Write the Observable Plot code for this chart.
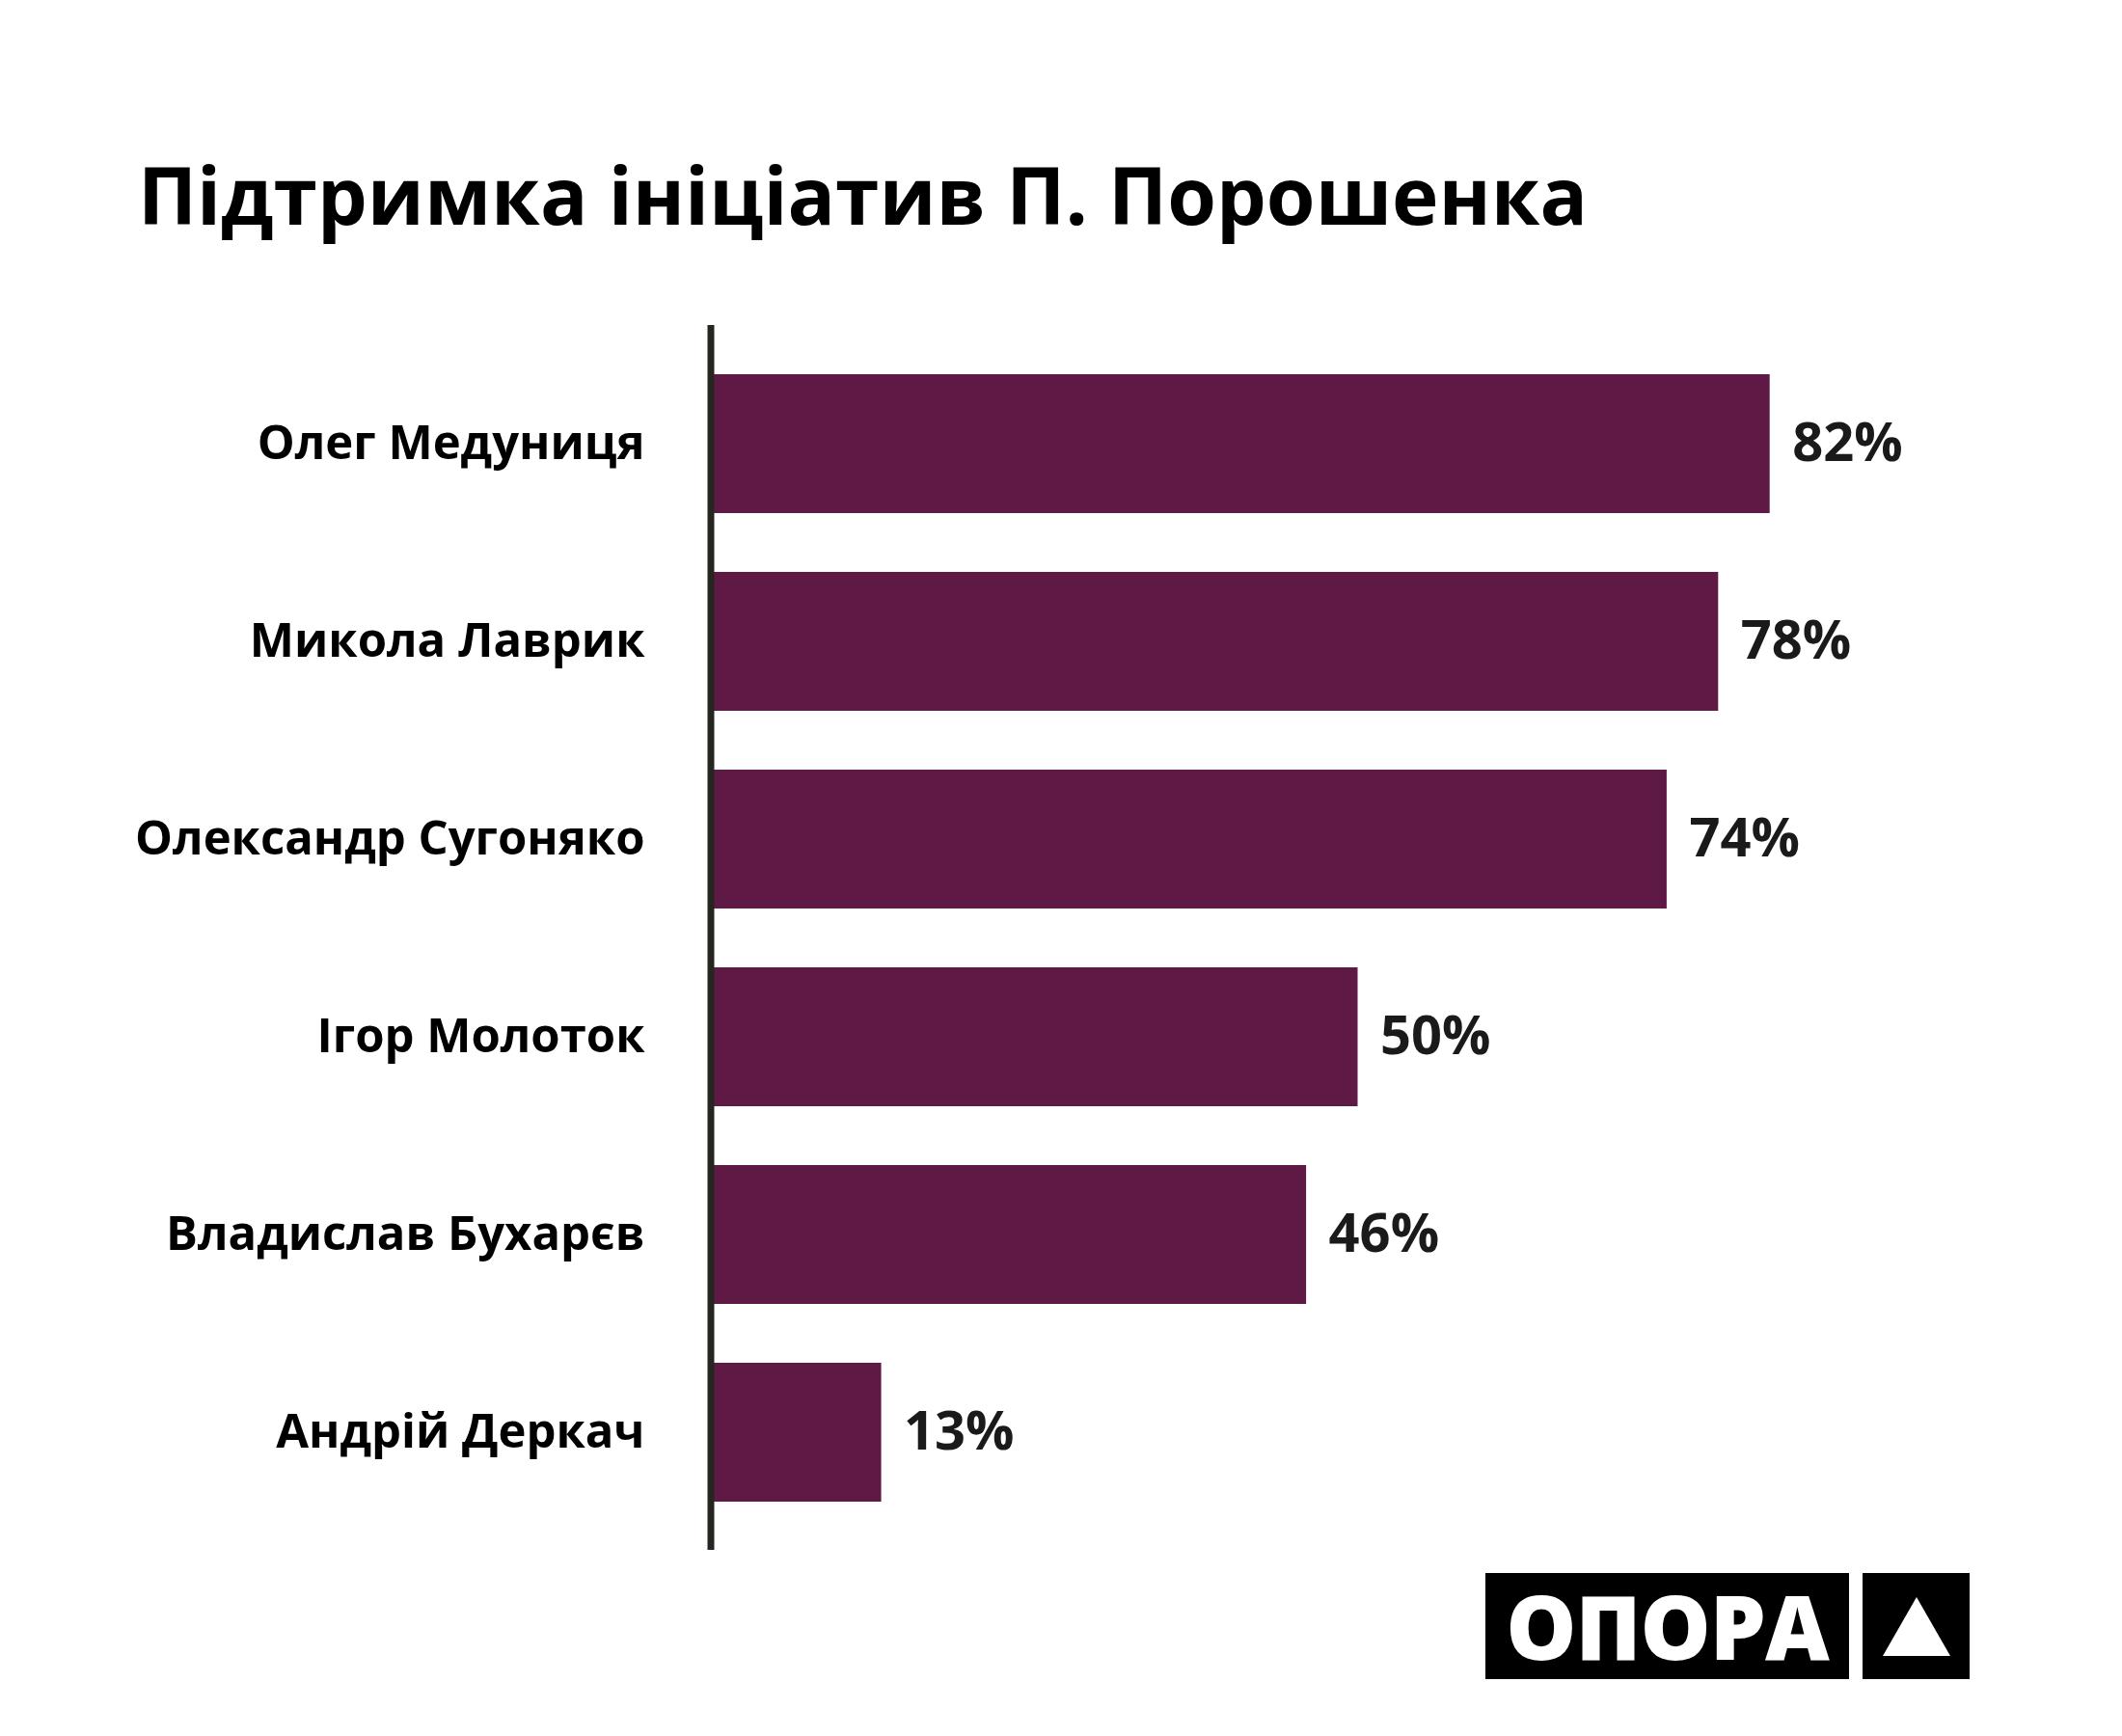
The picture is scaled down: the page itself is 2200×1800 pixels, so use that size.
<!DOCTYPE html>
<html>
<head>
<meta charset="utf-8">
<script src="https://cdn.jsdelivr.net/npm/d3@7"></script>
<script src="https://cdn.jsdelivr.net/npm/@observablehq/plot@0.6"></script>
<style>
  html, body { margin: 0; padding: 0; background: #ffffff; }
  #wrap { position: relative; width: 2200px; height: 1800px; background: #ffffff; overflow: hidden; }
  #title { position: absolute; left: 143px; top: 160px; font-family: "Open Sans", sans-serif; font-weight: 700; font-size: 82px; line-height: 1; color: #000; white-space: nowrap; margin: 0; }
  #chart { position: absolute; left: 0; top: 0; }
  #logo { position: absolute; left: 1540px; top: 1631px; height: 110px; display: flex; gap: 14px; }
  #logo .word { width: 377px; height: 110px; background: #000; color: #fff; font-family: "Open Sans", sans-serif; font-weight: 800; font-size: 92px; line-height: 110px; text-align: center; letter-spacing: -1px; }
  #logo .tri { width: 111px; height: 110px; background: #000; position: relative; }
  #logo .tri::after { content: ""; position: absolute; left: 21px; top: 25px; width: 0; height: 0; border-left: 35px solid transparent; border-right: 35px solid transparent; border-bottom: 61px solid #fff; }
</style>
</head>
<body>
<div id="wrap">
  <div id="chart"></div>
  <div id="title">Підтримка ініціатив П. Порошенка</div>
  <div id="logo"><div class="word">ОПОРА</div><div class="tri"></div></div>
</div>
<script>
const names = ["Олег Медуниця", "Микола Лаврик", "Олександр Сугоняко", "Ігор Молоток", "Владислав Бухарєв", "Андрій Деркач"];
const values = [82, 78, 74, 50, 46, 13];
const data = names.map((n, i) => ({name: n, value: values[i]}));

const chart = Plot.plot({
  width: 2200,
  height: 1800,
  marginLeft: 740,
  marginRight: 125,
  marginTop: 337,
  marginBottom: 193,
  style: {background: "transparent"},
  x: {domain: [0, 100], axis: null},
  y: {domain: names, axis: null, paddingInner: 0.2976, paddingOuter: 0.246},
  marks: [
    Plot.barX(data, {x: "value", y: "name", fill: "#5e1944"}),
    Plot.ruleX([0], {stroke: "#262620", strokeWidth: 7, dx: -3.5}),
    Plot.text(data, {x: 0, y: "name", text: "name", textAnchor: "end", dx: -72, fontFamily: "'Open Sans', sans-serif", fontWeight: 700, fontSize: 49, fill: "#000"}),
    Plot.text(data, {x: "value", y: "name", text: d => d.value + "%", textAnchor: "start", dx: 23, fontFamily: "'Open Sans', sans-serif", fontWeight: 700, fontSize: 56, fill: "#1a1a1a"})
  ]
});
document.getElementById("chart").appendChild(chart);
</script>
</body>
</html>
